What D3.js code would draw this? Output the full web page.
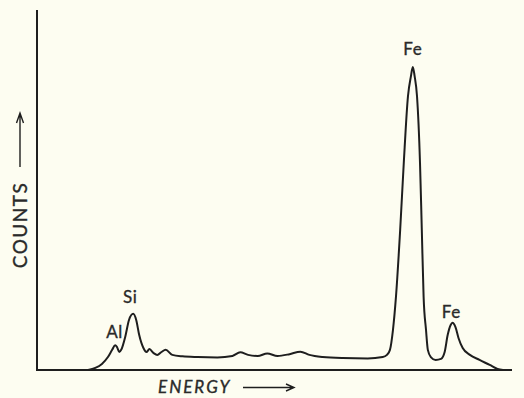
<!DOCTYPE html>
<html>
<head>
<meta charset="utf-8">
<script src="https://cdn.jsdelivr.net/npm/d3@7"></script>
<style>
  body { margin: 0; background: #fdfdf1; }
  svg { display: block; }
  text { font-family: Lato, "Open Sans", sans-serif; fill: #2a2a2a; stroke: #2a2a2a; stroke-width: 0.35px; }
</style>
</head>
<body>
<script>
// spectrum: energy (keV) and counts (arbitrary units)
let energy = [1.00, 1.12, 1.23, 1.33, 1.40, 1.45, 1.48, 1.52, 1.55, 1.62, 1.68, 1.75, 1.80, 1.85,
  1.92, 1.97, 2.02, 2.09, 2.15, 2.22, 2.29, 2.40, 2.57, 2.82, 3.15, 3.40, 3.53, 3.66, 3.82, 3.98,
  4.15, 4.35, 4.53, 4.68, 4.90, 5.23, 5.65, 5.90, 5.97, 6.02, 6.07, 6.12, 6.19, 6.25, 6.32, 6.37,
  6.40, 6.43, 6.47, 6.52, 6.55, 6.58, 6.62, 6.65, 6.70, 6.78, 6.87, 6.93, 6.98, 7.03, 7.06, 7.11,
  7.16, 7.23, 7.35, 7.51, 7.68, 7.81, 7.90]
let counts = [0, 6, 17, 36, 56, 69, 64, 50, 56, 94, 139, 156, 139, 97, 61, 50, 58, 47, 42, 50, 56,
  42, 38, 36, 35, 39, 49, 42, 39, 46, 39, 44, 51, 42, 36, 33, 32, 36, 42, 56, 111, 203, 389, 575,
  761, 817, 842, 817, 761, 575, 389, 203, 111, 56, 36, 28, 31, 50, 97, 125, 131, 119, 89, 61, 42,
  28, 14, 3, 0]

let peakLabels = ['Al', 'Si', 'Fe', 'Fe']
let peakEnergy = [1.44, 1.70, 6.40, 7.04]
let peakTop = [89, 186, 875, 145]

let m = {
  width: 524,
  height: 398,
  left: 37,
  right: 512,
  top: 10,
  bottom: 370,
}

let svg = d3.select('body')
  .append('svg')
  .attr('width', m.width)
  .attr('height', m.height)

let xScale = d3.scaleLinear()
  .domain([0.15, 8.05])
  .range([m.left, m.right])

let yScale = d3.scaleLinear()
  .domain([0, 1000])
  .range([m.bottom, m.top])

let ink = '#1e1e1e'

// axes: plain lines, no ticks
svg.append('line')
  .attr('x1', xScale(0.15)).attr('x2', xScale(0.15))
  .attr('y1', yScale(0)).attr('y2', yScale(1000))
  .attr('stroke', ink).attr('stroke-width', 2)

svg.append('line')
  .attr('x1', xScale(0.15) - 1).attr('x2', xScale(8.05))
  .attr('y1', yScale(0)).attr('y2', yScale(0))
  .attr('stroke', ink).attr('stroke-width', 2)

// spectrum curve
let points = energy.map(function(e, i) { return [e, counts[i]] })

let line = d3.line()
  .x(function(d) { return xScale(d[0]) })
  .y(function(d) { return yScale(d[1]) })
  .curve(d3.curveMonotoneX)

svg.append('path')
  .datum(points)
  .attr('d', line)
  .attr('fill', 'none')
  .attr('stroke', ink)
  .attr('stroke-width', 2)
  .attr('stroke-linejoin', 'round')

// peak labels
svg.selectAll('.peak')
  .data(peakLabels)
  .enter()
  .append('text')
    .attr('class', 'peak')
    .attr('x', function(d, i) { return xScale(peakEnergy[i]) })
    .attr('y', function(d, i) { return yScale(peakTop[i]) })
    .attr('text-anchor', 'middle')
    .attr('font-size', 17)
    .attr('letter-spacing', 0.5)
    .text(function(d) { return d })

// axis titles with arrows
svg.append('text')
  .attr('x', 158)
  .attr('y', 393)
  .attr('font-size', 17)
  .attr('font-style', 'italic')
  .attr('letter-spacing', 2)
  .text('ENERGY')

svg.append('text')
  .attr('transform', 'translate(27,225) rotate(-90)')
  .attr('text-anchor', 'middle')
  .attr('font-size', 19)
  .attr('letter-spacing', 1.5)
  .text('COUNTS')

svg.append('path')
  .attr('d', 'M243,387.5 H293 M286,384 L294,387.5 L286,391')
  .attr('fill', 'none').attr('stroke', ink).attr('stroke-width', 1.4)

svg.append('path')
  .attr('d', 'M20,167 V114 M16.5,123 L20,113 L23.5,123')
  .attr('fill', 'none').attr('stroke', ink).attr('stroke-width', 1.4)
</script>
</body>
</html>
